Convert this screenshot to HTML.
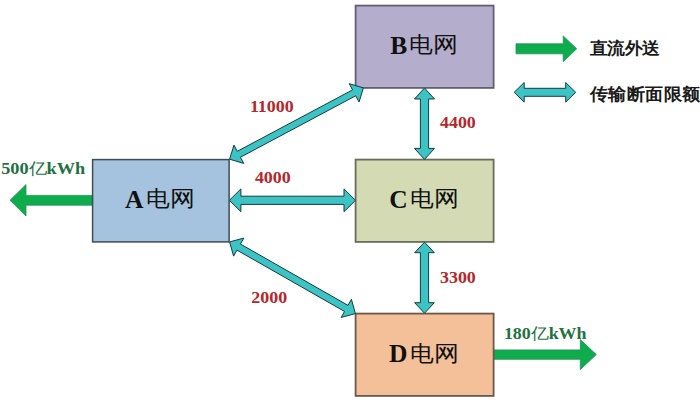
<!DOCTYPE html>
<html><head><meta charset="utf-8"><style>
html,body{margin:0;padding:0;background:#fff;width:700px;height:404px;overflow:hidden}
svg{position:absolute;left:0;top:0}
.t{font-family:"Liberation Serif",serif;}
</style></head><body>
<svg width="700" height="404" viewBox="0 0 700 404">
<polygon points="92.00,195.40 26.00,195.40 26.00,184.60 10.00,200.30 26.00,216.00 26.00,205.20 92.00,205.20" fill="#0eac4d" stroke="#25905a" stroke-width="0.8"/>
<polygon points="493.00,359.30 580.30,359.30 580.30,369.60 596.30,354.60 580.30,339.60 580.30,349.90 493.00,349.90" fill="#0eac4d" stroke="#25905a" stroke-width="0.8"/>
<polygon points="516.00,53.80 563.20,53.80 563.20,61.70 576.70,48.80 563.20,35.90 563.20,43.80 516.00,43.80" fill="#0eac4d" stroke="#25905a" stroke-width="0.8"/>
<rect x="92.6" y="159.6" width="136.5" height="82.3" fill="#a5c3de" stroke="#3d4b5a" stroke-width="1.5"/>
<rect x="355.6" y="5.6" width="138" height="82.3" fill="#b4adcb" stroke="#625e72" stroke-width="1.8"/>
<rect x="355.6" y="159.6" width="138" height="82.3" fill="#d3dab4" stroke="#6a6c5c" stroke-width="1.8"/>
<rect x="355.6" y="313.6" width="138" height="82.3" fill="#f4c09a" stroke="#6a584a" stroke-width="1.8"/>
<polygon points="424.50,88.00 414.50,99.00 420.40,99.00 420.40,148.40 414.50,148.40 424.50,159.40 434.50,148.40 428.60,148.40 428.60,99.00 434.50,99.00" fill="#3dc3c4" stroke="#133d3f" stroke-width="1" stroke-linejoin="miter"/>
<polygon points="424.50,242.20 414.70,252.70 420.40,252.70 420.40,302.70 414.70,302.70 424.50,313.20 434.30,302.70 428.60,302.70 428.60,252.70 434.30,252.70" fill="#3dc3c4" stroke="#133d3f" stroke-width="1" stroke-linejoin="miter"/>
<polygon points="229.40,200.30 240.90,211.70 240.90,204.40 344.00,204.40 344.00,211.70 355.50,200.30 344.00,188.90 344.00,196.20 240.90,196.20 240.90,188.90" fill="#3dc3c4" stroke="#133d3f" stroke-width="1" stroke-linejoin="miter"/>
<polygon points="229.60,159.20 243.76,163.44 240.44,157.22 355.71,95.79 359.02,102.02 363.40,87.90 349.24,83.66 352.56,89.88 237.29,151.31 233.98,145.08" fill="#3dc3c4" stroke="#133d3f" stroke-width="1" stroke-linejoin="miter"/>
<polygon points="229.60,241.90 233.57,256.13 236.99,250.14 344.54,311.44 341.13,317.44 355.40,313.60 351.43,299.37 348.01,305.36 240.46,244.06 243.87,238.06" fill="#3dc3c4" stroke="#133d3f" stroke-width="1" stroke-linejoin="miter"/>
<polygon points="514.20,92.30 524.20,102.10 524.20,96.30 565.70,96.30 565.70,102.10 575.70,92.30 565.70,82.50 565.70,88.30 524.20,88.30 524.20,82.50" fill="#3dc3c4" stroke="#133d3f" stroke-width="1" stroke-linejoin="miter"/>
<g font-family="Liberation Serif"><text transform="translate(390.20,53.60) scale(1.0,1)" x="0" y="0" font-size="25.5" font-weight="bold" fill="#111">B</text>
<text transform="translate(409.24,52.00) scale(1.08,1)" x="0" y="0" font-size="22" font-weight="500" fill="#111">电</text>
<text transform="translate(433.42,52.00) scale(1.14,1)" x="0" y="0" font-size="22" font-weight="500" fill="#111">网</text>
<text transform="translate(124.90,207.80) scale(1.0,1)" x="0" y="0" font-size="25.5" font-weight="bold" fill="#111">A</text>
<text transform="translate(145.84,206.20) scale(1.08,1)" x="0" y="0" font-size="22" font-weight="500" fill="#111">电</text>
<text transform="translate(170.02,206.20) scale(1.14,1)" x="0" y="0" font-size="22" font-weight="500" fill="#111">网</text>
<text transform="translate(389.30,207.90) scale(1.0,1)" x="0" y="0" font-size="25.5" font-weight="bold" fill="#111">C</text>
<text transform="translate(409.84,206.30) scale(1.08,1)" x="0" y="0" font-size="22" font-weight="500" fill="#111">电</text>
<text transform="translate(434.02,206.30) scale(1.14,1)" x="0" y="0" font-size="22" font-weight="500" fill="#111">网</text>
<text transform="translate(389.00,362.20) scale(1.0,1)" x="0" y="0" font-size="25.5" font-weight="bold" fill="#111">D</text>
<text transform="translate(409.84,360.60) scale(1.08,1)" x="0" y="0" font-size="22" font-weight="500" fill="#111">电</text>
<text transform="translate(434.02,360.60) scale(1.14,1)" x="0" y="0" font-size="22" font-weight="500" fill="#111">网</text>
<text transform="translate(249.88,112.20) scale(1.12,1)" x="0" y="0" font-size="16" font-weight="bold" fill="#b3282d">11000</text>
<text transform="translate(439.98,127.70) scale(1.12,1)" x="0" y="0" font-size="16" font-weight="bold" fill="#b3282d">4400</text>
<text transform="translate(254.88,182.60) scale(1.12,1)" x="0" y="0" font-size="16" font-weight="bold" fill="#b3282d">4000</text>
<text transform="translate(251.28,302.50) scale(1.12,1)" x="0" y="0" font-size="16" font-weight="bold" fill="#b3282d">2000</text>
<text transform="translate(439.98,282.70) scale(1.12,1)" x="0" y="0" font-size="16" font-weight="bold" fill="#b3282d">3300</text>
<text transform="translate(1.16,174.00) scale(1.14,1)" x="0" y="0" font-size="16" font-weight="bold" fill="#1f7142">500<tspan font-weight="500">亿</tspan>kWh</text>
<text transform="translate(503.88,339.30) scale(1.12,1)" x="0" y="0" font-size="16" font-weight="bold" fill="#1f7142">180<tspan font-weight="500">亿</tspan>kWh</text>
<text transform="translate(589.90,54.20) scale(1.05,1)" x="0" y="0" font-size="17" font-weight="bold" fill="#1a1a1a">直流外送</text>
<text transform="translate(589.50,100.20) scale(1.06,1)" x="0" y="0" font-size="17" font-weight="bold" fill="#1a1a1a">传输断面限额</text></g>
</svg>
</body></html>
